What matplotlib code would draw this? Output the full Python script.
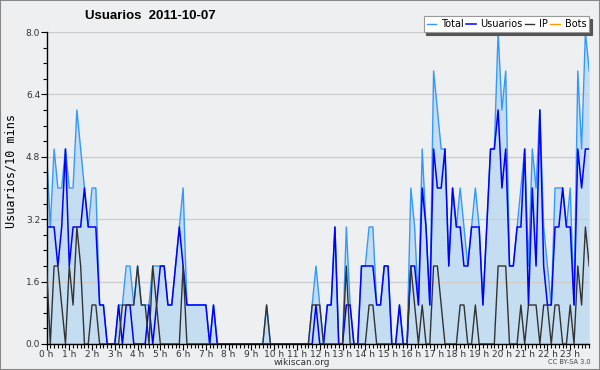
import matplotlib.pyplot as plt
import numpy as np

# 10-minute slots over the day (144 points)
total = [5, 3, 5, 4, 4, 5, 4, 4, 6, 5, 4, 3, 4, 4, 1, 1, 0, 0, 0, 1,
         1, 2, 2, 1, 2, 1, 1, 1, 2, 2, 2, 2, 1, 1, 2, 3, 4, 1, 1, 1,
         1, 1, 1, 0, 1, 0, 0, 0, 0, 0, 0, 0, 0, 0, 0, 0, 0, 0, 1, 0,
         0, 0, 0, 0, 0, 0, 0, 0, 0, 0, 1, 2, 1, 0, 1, 1, 3, 0, 0, 3,
         1, 0, 0, 2, 2, 3, 3, 1, 1, 2, 2, 0, 0, 1, 0, 0, 4, 3, 1, 5,
         3, 1, 7, 6, 5, 5, 2, 4, 3, 4, 3, 2, 3, 4, 3, 1, 3, 5, 5, 8,
         6, 7, 2, 2, 3, 4, 5, 2, 5, 4, 6, 3, 2, 1, 4, 4, 4, 3, 4, 1,
         7, 5, 8, 7]
usuarios = [3, 3, 3, 2, 3, 5, 2, 3, 3, 3, 4, 3, 3, 3, 1, 1, 0, 0, 0, 1,
            0, 1, 1, 0, 0, 0, 0, 1, 0, 1, 2, 2, 1, 1, 2, 3, 2, 1, 1, 1,
            1, 1, 1, 0, 1, 0, 0, 0, 0, 0, 0, 0, 0, 0, 0, 0, 0, 0, 0, 0,
            0, 0, 0, 0, 0, 0, 0, 0, 0, 0, 0, 1, 0, 0, 1, 1, 3, 0, 0, 1,
            1, 0, 0, 2, 2, 2, 2, 1, 1, 2, 2, 0, 0, 1, 0, 0, 2, 2, 1, 4,
            3, 1, 5, 4, 4, 5, 2, 4, 3, 3, 2, 2, 3, 3, 3, 1, 3, 5, 5, 6,
            4, 5, 2, 2, 3, 3, 5, 1, 4, 2, 6, 2, 1, 1, 3, 3, 4, 3, 3, 1,
            5, 4, 5, 5]
ip = [2, 0, 2, 2, 1, 0, 2, 1, 3, 2, 0, 0, 1, 1, 0, 0, 0, 0, 0, 0,
      1, 1, 1, 1, 2, 1, 1, 0, 2, 1, 0, 0, 0, 0, 0, 0, 2, 0, 0, 0,
      0, 0, 0, 0, 0, 0, 0, 0, 0, 0, 0, 0, 0, 0, 0, 0, 0, 0, 1, 0,
      0, 0, 0, 0, 0, 0, 0, 0, 0, 0, 1, 1, 1, 0, 0, 0, 0, 0, 0, 2,
      0, 0, 0, 0, 0, 1, 1, 0, 0, 0, 0, 0, 0, 0, 0, 0, 2, 1, 0, 1,
      0, 0, 2, 2, 1, 0, 0, 0, 0, 1, 1, 0, 0, 1, 0, 0, 0, 0, 0, 2,
      2, 2, 0, 0, 0, 1, 0, 1, 1, 1, 0, 1, 1, 0, 1, 1, 0, 0, 1, 0,
      2, 1, 3, 2]
bots = [0] * 144

hour_labels = [f'{h} h' for h in range(24)]

BG = '#eeeff1'
fig = plt.figure(figsize=(6, 3.7), dpi=100, facecolor=BG)
ax = fig.add_axes([0.0775, 0.0703, 0.9045, 0.8432], facecolor=BG)

x = np.arange(len(total))
ax.fill_between(x, total, 0, color='#c5ddf0', lw=0, zorder=1)
l_bots, = ax.plot(x, bots, color='#ff9900', lw=1, zorder=1.5)
l_total, = ax.plot(x, total, color='#3399ff', lw=1, zorder=2)
l_user, = ax.plot(x, usuarios, color='#0000ff', lw=1.1, zorder=3)
l_ip, = ax.plot(x, ip, color='#333333', lw=1, zorder=4)

ax.set_xlim(0, len(total) - 1)
ax.set_ylim(0, 8)

yt = [0, 1.6, 3.2, 4.8, 6.4, 8.0]
ax.set_yticks(yt)
ax.set_yticklabels([f'{v:.1f}' for v in yt])
ax.set_yticks(np.arange(0, 8.01, 0.4), minor=True)
ax.set_xticks(np.arange(0, 144, 6))
ax.set_xticklabels(hour_labels)
ax.set_xticks(np.arange(0, 144, 1), minor=True)
ax.tick_params(axis='both', which='major', labelsize=6.5, length=4, width=0.8,
               color='black', pad=0.5)
ax.tick_params(axis='x', which='minor', length=3, width=0.8)
ax.tick_params(axis='y', which='minor', length=3, width=0.8)
for lab in ax.get_xticklabels() + ax.get_yticklabels():
    lab.set_color('#333333')

ax.grid(axis='y', which='major', color='#cccccc', lw=0.9, zorder=0)
for s in ['top', 'right']:
    ax.spines[s].set_visible(False)
ax.spines['left'].set_linewidth(1)
ax.spines['bottom'].set_linewidth(1)

ax.set_ylabel('Usuarios/10 mins', family='DejaVu Sans Mono', fontsize=8.5)
ax.yaxis.label.set_va('center')
ax.yaxis.set_label_coords(-0.066, 0.555)
ax.set_xlabel('wikiscan.org', fontsize=6.5, color='#333333')
ax.xaxis.set_label_coords(0.471, -0.06)
ax.xaxis.label.set_va('center')
fig.text(0.25, 0.957, 'Usuarios  2011-10-07', family='Liberation Sans',
         fontsize=9.5, fontweight='bold', ha='center', va='center')
fig.text(0.985, 0.022, 'CC BY-SA 3.0', fontsize=4.8, color='#444444',
         ha='right', va='center')

leg = ax.legend([l_total, l_user, l_ip, l_bots],
                ['Total', 'Usuarios', 'IP', 'Bots'], loc='upper right',
                bbox_to_anchor=(1.0, 1.05), ncol=4, fontsize=7, frameon=True,
                fancybox=False, shadow={'color': '#555555', 'alpha': 1},
                handlelength=1.0, handletextpad=0.5,
                columnspacing=0.2, borderpad=0.3, borderaxespad=0)
leg.get_frame().set_edgecolor('#999999')
leg.get_frame().set_linewidth(0.8)
leg.get_frame().set_alpha(1)

# outer frame
fig.patches.append(plt.Rectangle((0, 0), 1, 1, transform=fig.transFigure,
                                 fill=False, ec='#888888', lw=1.5))

fig.savefig('out.png', dpi=100, facecolor=BG)
